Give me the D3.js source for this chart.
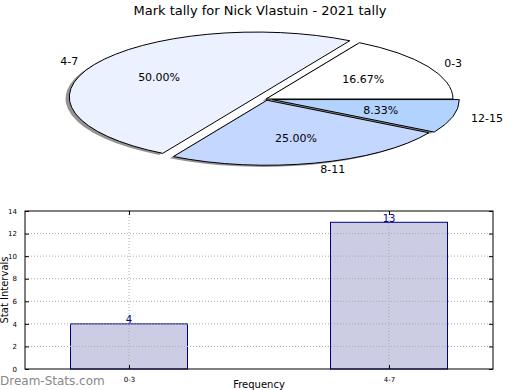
<!DOCTYPE html>
<html>
<head>
<meta charset="utf-8">
<script src="https://cdn.jsdelivr.net/npm/d3@7"></script>
<style>
    body { margin: 0; background: #fff; }
    text { font-family: 'DejaVu Sans', sans-serif; }
</style>
</head>
<body>
<div id="chart"></div>
<script>
// ---- data ----
var PIE_LABELS   = ['0-3', '4-7', '8-11', '12-15'];
var PIE_VALUES   = [2, 6, 3, 1];
var PIE_EXPLODE  = [0, 0.06, 0.02, 0.035];
var PIE_COLORS   = ['#ffffff', '#ebf1ff', '#c4d7ff', '#b3d3ff'];

var BAR_LABELS   = ['0-3', '4-7'];
var BAR_VALUES   = [4, 13];
var Y_TICKS      = [0, 2, 4, 6, 8, 10, 12, 14];

// ---- layout ----
var WIDTH = 520, HEIGHT = 390;
var PIE_CX = 266, PIE_CY = 99, PIE_RX = 187, PIE_RY = 65;
var R = 100; // unit radius before the ellipse squeeze
var BAR_LEFT = 25, BAR_RIGHT = 493, BAR_TOP = 211, BAR_BOTTOM = 369;

var svg = d3.select('#chart')
            .append('svg')
            .attr('width', WIDTH)
            .attr('height', HEIGHT);

// title
svg.append('text')
    .attr('x', 260)
    .attr('y', 15)
    .attr('text-anchor', 'middle')
    .style('font-size', '13px')
    .text('Mark tally for Nick Vlastuin - 2021 tally');

// ---------------- pie ----------------
// counter-clockwise from 3 o'clock, like the original
var pie = d3.pie()
            .sort(null)
            .startAngle(Math.PI / 2)
            .endAngle(Math.PI / 2 - 2 * Math.PI);

var arcs = pie(PIE_VALUES).map(function(d, i) {
    var mid = (d.startAngle + d.endAngle) / 2;
    return {
        arc     : d,
        mid     : mid,
        explode : PIE_EXPLODE[i],
        label   : PIE_LABELS[i],
        color   : PIE_COLORS[i],
        pct     : d.value / d3.sum(PIE_VALUES) * 100
    };
});

var arcGen = d3.arc().innerRadius(0).outerRadius(R);

var pieG = svg.append('g')
              .attr('transform', 'translate(' + PIE_CX + ',' + PIE_CY + ') scale(' + PIE_RX / R + ',' + PIE_RY / R + ')');

function offset(d, k) {
    return [Math.sin(d.mid) * k * R, -Math.cos(d.mid) * k * R];
}

// shadows first, all below the wedges
pieG.selectAll('path.shadow')
    .data(arcs)
    .enter()
    .append('path')
    .attr('class', 'shadow')
    .attr('d', function(d) { return arcGen(d.arc); })
    .attr('transform', function(d) {
        var o = offset(d, d.explode);
        return 'translate(' + (o[0] - 0.02 * R) + ',' + (o[1] + 0.025 * R) + ')';
    })
    .attr('fill', '#3a3a3a')
    .attr('fill-opacity', 0.55);

// wedges
pieG.selectAll('path.wedge')
    .data(arcs)
    .enter()
    .append('path')
    .attr('class', 'wedge')
    .attr('d', function(d) { return arcGen(d.arc); })
    .attr('transform', function(d) {
        var o = offset(d, d.explode);
        return 'translate(' + o[0] + ',' + o[1] + ')';
    })
    .attr('fill', function(d) { return d.color; })
    .attr('stroke', '#000')
    .attr('stroke-width', 1)
    .attr('vector-effect', 'non-scaling-stroke');

// position in screen space for a distance along the mid angle
function screenPos(d, dist) {
    var o = offset(d, dist);
    return [PIE_CX + o[0] * PIE_RX / R, PIE_CY + o[1] * PIE_RY / R];
}

// category labels outside
svg.selectAll('text.pie-label')
    .data(arcs)
    .enter()
    .append('text')
    .attr('class', 'pie-label')
    .attr('x', function(d) { return screenPos(d, d.explode + 1.1)[0]; })
    .attr('y', function(d) { return screenPos(d, d.explode + 1.1)[1]; })
    .attr('dy', '0.35em')
    .attr('text-anchor', function(d) { return Math.sin(d.mid) > 0 ? 'start' : 'end'; })
    .style('font-size', '11px')
    .text(function(d) { return d.label; });

// percentages inside
svg.selectAll('text.pie-pct')
    .data(arcs)
    .enter()
    .append('text')
    .attr('class', 'pie-pct')
    .attr('x', function(d) { return screenPos(d, d.explode + 0.6)[0]; })
    .attr('y', function(d) { return screenPos(d, d.explode + 0.6)[1]; })
    .attr('dy', '0.35em')
    .attr('text-anchor', 'middle')
    .style('font-size', '11px')
    .text(function(d) { return d.pct.toFixed(2) + '%'; });

// ---------------- bars ----------------
var x = d3.scaleLinear().domain([-0.4, BAR_LABELS.length - 0.6]).range([BAR_LEFT, BAR_RIGHT]);
var y = d3.scaleLinear().domain([0, 14]).range([BAR_BOTTOM, BAR_TOP]);
var BAR_W = 0.45;

var barG = svg.append('g');

barG.selectAll('rect.bar')
    .data(BAR_VALUES)
    .enter()
    .append('rect')
    .attr('class', 'bar')
    .attr('x', function(d, i) { return x(i - BAR_W / 2); })
    .attr('y', function(d) { return y(d); })
    .attr('width', x(BAR_W) - x(0))
    .attr('height', function(d) { return y(0) - y(d); })
    .attr('fill', '#ccccE4')
    .attr('stroke', '#000080')
    .attr('stroke-width', 1);

// dotted grid, drawn over the bars
barG.selectAll('line.hgrid')
    .data(Y_TICKS.slice(1, -1))
    .enter()
    .append('line')
    .attr('class', 'hgrid')
    .attr('x1', BAR_LEFT)
    .attr('x2', BAR_RIGHT)
    .attr('y1', function(d) { return y(d); })
    .attr('y2', function(d) { return y(d); })
    .attr('stroke', '#aaa')
    .attr('stroke-dasharray', '1,2');

barG.selectAll('line.vgrid')
    .data(BAR_LABELS)
    .enter()
    .append('line')
    .attr('class', 'vgrid')
    .attr('x1', function(d, i) { return x(i); })
    .attr('x2', function(d, i) { return x(i); })
    .attr('y1', BAR_TOP)
    .attr('y2', BAR_BOTTOM)
    .attr('stroke', '#aaa')
    .attr('stroke-dasharray', '1,2');

// axes with inward ticks
var yAxis = d3.axisLeft(y).tickValues(Y_TICKS).tickSizeInner(-4).tickSizeOuter(0).tickPadding(8);
var yAxisR = d3.axisRight(y).tickValues(Y_TICKS).tickSizeInner(-4).tickSizeOuter(0).tickFormat('');
var xAxis = d3.axisBottom(x).tickValues(d3.range(BAR_LABELS.length))
              .tickFormat(function(i) { return BAR_LABELS[i]; })
              .tickSizeInner(-4).tickSizeOuter(0).tickPadding(8);
var xAxisT = d3.axisTop(x).tickValues(d3.range(BAR_LABELS.length)).tickSizeInner(-4).tickSizeOuter(0).tickFormat('');

[
    { axis : yAxis,  t : 'translate(' + BAR_LEFT + ',0)' },
    { axis : yAxisR, t : 'translate(' + BAR_RIGHT + ',0)' },
    { axis : xAxis,  t : 'translate(0,' + BAR_BOTTOM + ')' },
    { axis : xAxisT, t : 'translate(0,' + BAR_TOP + ')' }
].forEach(function(a) {
    var g = svg.append('g').attr('transform', a.t).call(a.axis);
    g.select('.domain').remove();
    g.selectAll('text').style('font-size', '7px').style('font-family', "'DejaVu Sans', sans-serif");
});

// frame
svg.append('rect')
    .attr('x', BAR_LEFT)
    .attr('y', BAR_TOP)
    .attr('width', BAR_RIGHT - BAR_LEFT)
    .attr('height', BAR_BOTTOM - BAR_TOP)
    .attr('fill', 'none')
    .attr('stroke', '#000')
    .attr('stroke-width', 1);

// value labels above each bar
svg.selectAll('text.bar-value')
    .data(BAR_VALUES)
    .enter()
    .append('text')
    .attr('class', 'bar-value')
    .attr('x', function(d, i) { return x(i); })
    .attr('y', function(d) { return y(d) - 0.5; })
    .attr('text-anchor', 'middle')
    .attr('fill', '#00008b')
    .style('font-size', '10px')
    .text(function(d) { return d; });

// axis titles
svg.append('text')
    .attr('transform', 'translate(8,290) rotate(-90)')
    .attr('text-anchor', 'middle')
    .style('font-size', '10px')
    .text('Stat Intervals');

svg.append('text')
    .attr('x', 259)
    .attr('y', 388)
    .attr('text-anchor', 'middle')
    .style('font-size', '10px')
    .text('Frequency');

// watermark
svg.append('text')
    .attr('x', 0)
    .attr('y', 385)
    .attr('fill', '#888')
    .style('font-size', '12px')
    .text('Dream-Stats.com');
</script>
</body>
</html>
